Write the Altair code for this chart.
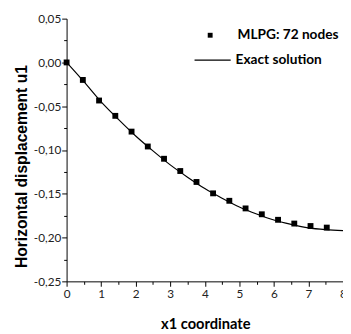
import altair as alt
import pandas as pd

# MLPG nodal results
mlpg_x = [0.0, 0.47, 0.94, 1.41, 1.88, 2.35, 2.82, 3.29, 3.76, 4.24, 4.71,
          5.18, 5.65, 6.12, 6.59, 7.06, 7.53]
mlpg_u = [0.0, -0.020, -0.0435, -0.061, -0.079, -0.096, -0.110, -0.124,
          -0.1365, -0.1495, -0.158, -0.1667, -0.1734, -0.1797, -0.184,
          -0.1868, -0.1886]

# Exact solution curve
exact_x = [0.0, 0.5, 1.0, 1.5, 2.0, 2.5, 3.0, 3.5, 4.0, 4.5, 5.0, 5.5, 6.0,
           6.5, 7.0, 7.5, 8.0]
exact_u = [0.0, -0.022, -0.045, -0.065, -0.084, -0.101, -0.117, -0.131,
           -0.144, -0.155, -0.165, -0.173, -0.180, -0.185, -0.189, -0.191,
           -0.192]

series_names = ["MLPG: 72 nodes", "Exact solution"]
x_ticks = [i * 0.5 for i in range(17)]
y_ticks = [round(-0.25 + i * 0.025, 3) for i in range(13)]

mlpg_df = pd.DataFrame({"x": mlpg_x, "u": mlpg_u, "s": series_names[0]})
exact_df = pd.DataFrame({"x": exact_x, "u": exact_u, "s": series_names[1]})

NARROW = "Lato, Liberation Sans, Arial"
WIDE = "Liberation Sans, Arial"

x_enc = alt.X(
    "x:Q",
    scale=alt.Scale(domain=[0, 8], nice=False, zero=False),
    axis=alt.Axis(
        values=x_ticks,
        title="x1 coordinate",
        titleFont=NARROW, titleFontSize=15, titleFontWeight="bold",
        titleColor="black",
        titleX=142, titleY=48, titleBaseline="alphabetic", titleAlign="center",
        labelExpr="datum.value % 1 == 0 ? format(datum.value, 'd') : ''",
        labelFont=NARROW, labelFontSize=12, labelColor="#222",
        labelFlush=False, labelOverlap=False, labelPadding=3,
        tickSize={"condition": {"test": "datum.value % 1 == 0", "value": 5}, "value": 3},
        tickColor="black", domainColor="black", grid=False,
    ),
)

y_enc = alt.Y(
    "u:Q",
    scale=alt.Scale(domain=[-0.25, 0.05], nice=False, zero=False),
    axis=alt.Axis(
        values=y_ticks,
        title="Horizontal displacement u1",
        titleFont=WIDE, titleFontSize=16, titleFontWeight="bold",
        titleColor="black",
        titleX=-41, titleY=151, titleBaseline="alphabetic", titleAlign="center",
        titleAngle=270,
        labelExpr="abs(round(datum.value*1000)) % 50 == 0 ? replace(replace(format(datum.value, '.2f'), '.', ','), '\u2212', '-') : ''",
        labelFont=NARROW, labelFontSize=12, labelColor="#222",
        labelOverlap=False, labelPadding=1,
        tickSize={"condition": {"test": "abs(round(datum.value*1000)) % 50 == 0", "value": 5}, "value": 3},
        tickColor="black", domainColor="black", grid=False,
    ),
)

line = alt.Chart(exact_df).mark_line(strokeWidth=1.2, interpolate="monotone").encode(
    x=x_enc,
    y=y_enc,
    color=alt.Color(
        "s:N",
        scale=alt.Scale(domain=[series_names[1]], range=["black"]),
        legend=alt.Legend(
            title=None, orient="none", legendX=130, legendY=23,
            padding=0, symbolType="stroke", symbolSize=1369,
            symbolStrokeWidth=1.2, symbolStrokeColor="black",
            labelFont=NARROW, labelFontSize=14, labelFontWeight="bold",
            labelColor="black", labelOffset=4,
        ),
    ),
)

points = alt.Chart(mlpg_df).mark_point(
    filled=True, color="black", opacity=1, size=36
).encode(
    x=x_enc,
    y=y_enc,
    shape=alt.Shape(
        "s:N",
        scale=alt.Scale(domain=[series_names[0]], range=["square"]),
        legend=alt.Legend(
            title=None, orient="none", legendX=140, legendY=10,
            padding=0, symbolSize=25, symbolFillColor="black",
            labelFont=NARROW, labelFontSize=14, labelFontWeight="bold",
            labelColor="black", labelOffset=21,
        ),
    ),
)

chart = alt.layer(line, points).properties(
    width=283, height=269,
    autosize=alt.AutoSizeParams(type="none"),
    padding={"left": 60, "top": 7, "right": 0, "bottom": 50},
).configure_view(stroke=None)

chart.save("out.html", embed_options={"renderer": "svg", "actions": False})
